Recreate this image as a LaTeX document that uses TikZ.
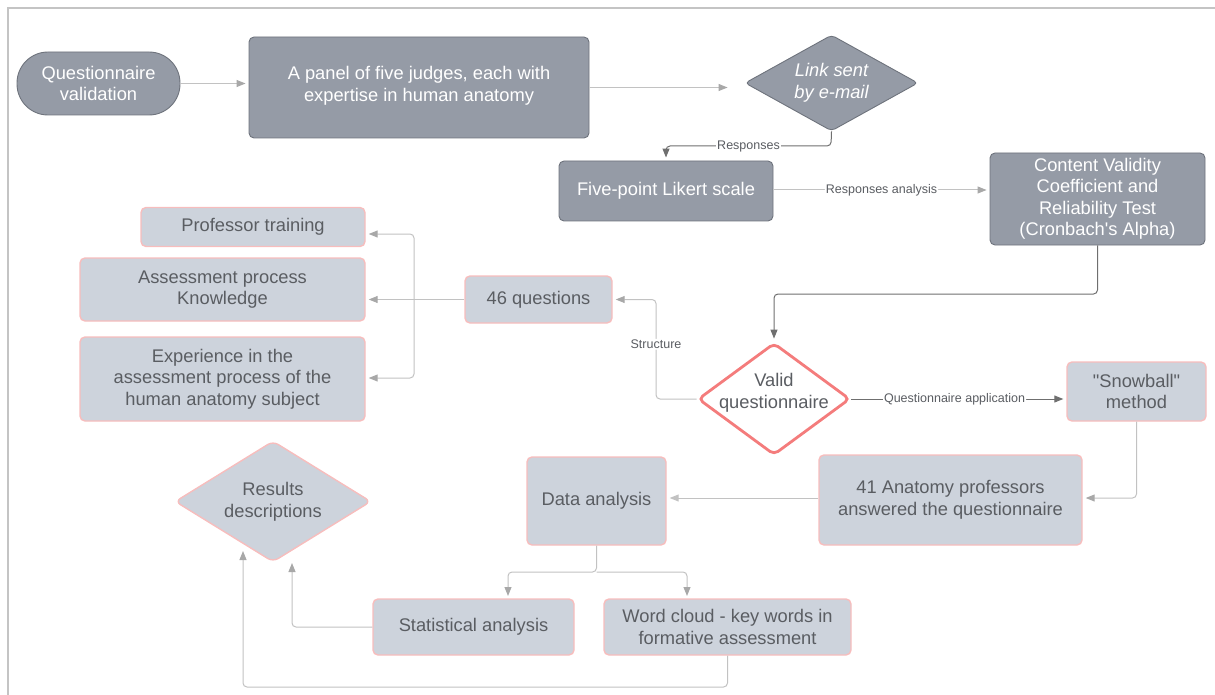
\documentclass[tikz,border=0pt]{standalone}
\usepackage{fontspec}
\setmainfont{Liberation Sans}
\usetikzlibrary{shapes.geometric,arrows.meta}
\definecolor{darkfill}{HTML}{959BA6}
\definecolor{darkline}{HTML}{6E737C}
\definecolor{lightfill}{HTML}{CDD3DC}
\definecolor{pinkline}{HTML}{F7BDBD}
\definecolor{redline}{HTML}{F47C7C}
\definecolor{txtgray}{HTML}{5A5D62}
\definecolor{arrlight}{HTML}{C2C2C2}
\definecolor{tiplight}{HTML}{A8A8A8}
\definecolor{arrdark}{HTML}{6F6F6F}
\definecolor{framegray}{HTML}{C4C4C4}
\begin{document}
\begin{tikzpicture}[x=1pt,y=-1pt,
  bigfont/.style={font=\fontsize{18.3}{21.5}\selectfont},
  darkbox/.style={draw=darkline, fill=darkfill, line width=0.9pt, rounded corners=5pt, text=white, bigfont, align=center, inner sep=0pt},
  lightbox/.style={draw=pinkline, fill=lightfill, line width=1.4pt, rounded corners=5pt, text=txtgray, bigfont, align=center, inner sep=0pt},
  conn/.style={draw=arrlight, line width=1pt, -{Triangle[length=9pt,width=7pt,color=tiplight]}, rounded corners=4pt, shorten >=3pt},
  conndark/.style={draw=arrdark, line width=1pt, -{Triangle[length=9pt,width=7pt]}, rounded corners=4pt, shorten >=3pt},
  lbl/.style={font=\fontsize{12.5}{14}\selectfont, text=txtgray, fill=white, inner sep=1pt}
]
\useasboundingbox (0,0) rectangle (1215,695);
\draw[framegray, line width=1.5pt] (8,695) -- (8,8) -- (1215,8);

% dark nodes
\node[darkbox, minimum width=163pt, minimum height=63pt, rounded corners=31pt] (qv) at (98.5,83.5) {Questionnaire\\validation};
\node[darkbox, minimum width=340pt, minimum height=101pt] (panel) at (419,87.5) {};
\node[text=white, bigfont, align=center] (paneltxt) at (419,86) {A panel of five judges, each with\\expertise in human anatomy};
\node[darkbox, diamond, aspect=1.8, minimum width=173pt, minimum height=96pt, rounded corners=4pt] (link) at (831.5,83) {\itshape Link sent\\\itshape by e-mail};
\node[darkbox, minimum width=214pt, minimum height=60pt] (likert) at (666,191) {Five-point Likert scale};
\node[darkbox, minimum width=215pt, minimum height=92pt] (content) at (1097.5,199) {Content Validity\\Coefficient and\\Reliability Test\\(Cronbach\textquotesingle s Alpha)};

% light nodes
\node[draw=redline, fill=white, line width=2.8pt, diamond, aspect=1.357, minimum width=152pt, minimum height=112pt, rounded corners=5pt, inner sep=0pt] (valid) at (774,399) {};
\node[text=txtgray, bigfont, align=center] (validtxt) at (774,393) {Valid\\questionnaire};
\node[lightbox, minimum width=139pt, minimum height=59pt] (snow) at (1136.5,391.5) {\textquotedbl Snowball\textquotedbl\\method};
\node[lightbox, minimum width=263pt, minimum height=90pt] (prof) at (950.5,500) {41 Anatomy professors\\answered the questionnaire};
\node[lightbox, minimum width=139pt, minimum height=88pt] (data) at (596.5,501) {Data analysis};
\node[lightbox, minimum width=201pt, minimum height=56pt] (stat) at (473.5,627) {Statistical analysis};
\node[lightbox, minimum width=247pt, minimum height=56pt] (word) at (727.5,627) {Word cloud - key words in\\formative assessment};
\node[lightbox, diamond, aspect=1.62, minimum width=196pt, minimum height=121pt, rounded corners=6pt] (results) at (273,501.5) {};
\node[text=txtgray, bigfont, align=center] (restxt) at (273,502) {Results\\descriptions};
\node[lightbox, minimum width=147pt, minimum height=47pt] (q46) at (538.5,299.5) {46 questions};
\node[lightbox, minimum width=224pt, minimum height=39pt] (proftr) at (253,227) {Professor training};
\node[lightbox, minimum width=285pt, minimum height=63pt] (assess) at (222.5,289.5) {Assessment process\\Knowledge};
\node[lightbox, minimum width=285pt, minimum height=84pt] (exper) at (222.5,379) {Experience in the\\assessment process of the\\human anatomy subject};

% connectors
\draw[conn] (qv.east) -- (qv.east -| panel.west);
\draw[conn, shorten >=17pt] (panel.east) -- (panel.east -| link.west);
\draw[conndark] (link.south) -- (831,146) -- node[lbl]{Responses} (666,146) -- (likert.north -| 666,0);
\draw[conn] (likert.east |- 0,190) -- node[lbl]{Responses analysis} (content.west |- 0,190);
\draw[conndark] (content.south) -- (1097.5,294) -- (774,294) -- (valid.north);
\draw[conn] (valid.west) -- (656,399) -- node[lbl, pos=0.55]{Structure} (656,299.5) -- (q46.east);
\draw[conndark] (valid.east) -- node[lbl, pos=0.48]{Questionnaire application} (snow.west |- valid.east);
\draw[conn] (snow.south) -- (1136.5,498) -- (prof.east |- 0,498);
\draw[conndark, draw=arrlight] (prof.west |- 0,498) -- (data.east |- 0,498);
\draw[conn] (data.south) -- (596.5,572) -- (508,572) -- (508,599);
\draw[conn] (596.5,572) -- (687,572) -- (687,599);
\draw[conn] (stat.west) -- (292,627) -- (292,560);
\draw[conn] (word.south) -- (727.5,687) -- (243,687) -- (243,548);
\coordinate (split) at (414,299.5);
\draw[conn] (q46.west) -- (q46.west -| assess.east);
\draw[conn] (split) -- (414,234) -- (proftr.east |- 0,234);
\draw[conn] (split) -- (414,378) -- (exper.east |- 0,378);
\end{tikzpicture}
\end{document}
